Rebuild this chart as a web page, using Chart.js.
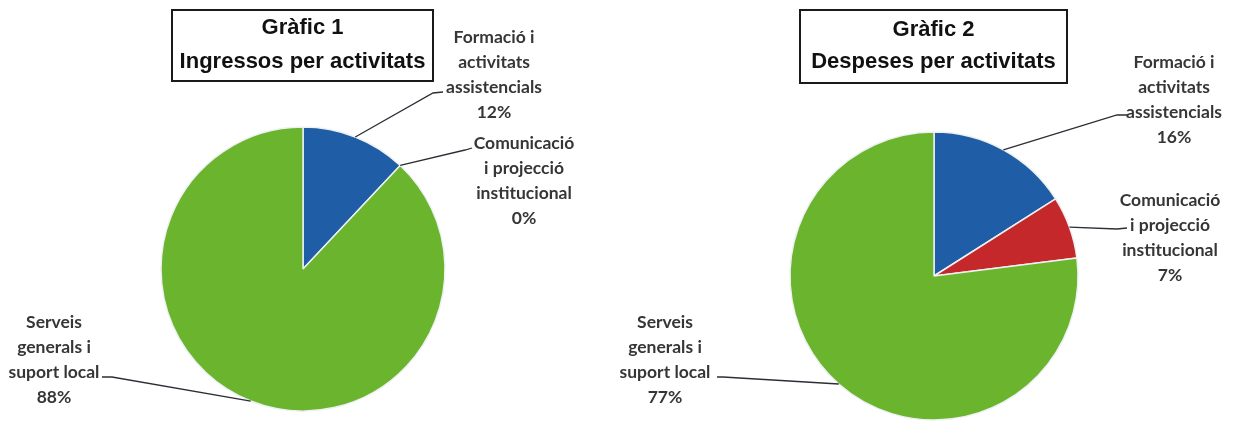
<!DOCTYPE html>
<html lang="ca">
<head>
  <meta charset="UTF-8">
  <title>Gràfics 1 i 2 - Ingressos i despeses per activitats</title>
  <script src="https://cdn.jsdelivr.net/npm/chart.js"></script>
  <style>
    html, body {
      margin: 0;
      padding: 0;
      background: #ffffff;
    }
    .wrap {
      position: relative;
      width: 1236px;
      height: 426px;
      overflow: hidden;
    }
    canvas {
      position: absolute;
      top: 0;
    }
    #chart1 { left: 0; }
    #chart2 { left: 618px; }
  </style>
</head>
<body>
  <div class="wrap">
    <canvas id="chart1" width="618" height="426"></canvas>
    <canvas id="chart2" width="618" height="426"></canvas>
  </div>

  <script>
    // categories (multi-line labels), same for both charts
    const categories = [
      ['Formació i', 'activitats', 'assistencials'],
      ['Comunicació', 'i projecció', 'institucional'],
      ['Serveis', 'generals i', 'suport local']
    ];
    // shares in %
    const ingressos = [12, 0, 88];
    const despeses = [16, 7, 77];
    const titles1 = ['Gràfic 1', 'Ingressos per activitats'];
    const titles2 = ['Gràfic 2', 'Despeses per activitats'];

    const sliceColors = ['#1f5ea6', '#c4282a', '#6ab42e'];

    // label placement, relative to the pie centre
    // text: centre x / first line y ; elbow + end of the leader line
    const place1 = [
      { tx: 191, ty: -232, ex: 130, ey: -176, fx: 140, fy: -177 },
      { tx: 221, ty: -126, ex: 162, ey: -119, fx: 169, fy: -121 },
      { tx: -249, ty: 53, ex: -191, ey: 108, fx: -201, fy: 108 }
    ];
    const place2 = [
      { tx: 240, ty: -214, ex: 183, ey: -161, fx: 193, fy: -161 },
      { tx: 236, ty: -76, ex: 183, ey: -47, fx: 193, fy: -48 },
      { tx: -269, ty: 46, ex: -211, ey: 101, fx: -217, fy: 101 }
    ];
    const box1 = { x0: -131, y0: -259, x1: 130, y1: -188, b1: -235, b2: -201 };
    const box2 = { x0: -134, y0: -266, x1: 133, y1: -193, b1: -240, b2: -208 };

    const labelFont = 'bold 17.5px Lato, "Open Sans", sans-serif';
    const titleFont = 'bold 22px "Liberation Sans", Arial, sans-serif';

    const annotatePlugin = {
      id: 'annotate',
      afterDraw(chart, args, opts) {
        const ctx = chart.ctx;
        const meta = chart.getDatasetMeta(0);
        const first = meta.data[0];
        const cx = first.x, cy = first.y;
        const data = chart.data.datasets[0].data;

        ctx.save();
        // title box
        const b = opts.box;
        ctx.strokeStyle = '#1a1a1a';
        ctx.lineWidth = 2;
        ctx.strokeRect(cx + b.x0, cy + b.y0, b.x1 - b.x0, b.y1 - b.y0);
        ctx.fillStyle = '#111';
        ctx.font = titleFont;
        ctx.textAlign = 'center';
        ctx.textBaseline = 'alphabetic';
        const mid = cx + (b.x0 + b.x1) / 2;
        ctx.fillText(opts.title[0], mid, cy + b.b1);
        ctx.fillText(opts.title[1], mid, cy + b.b2);

        // slice labels with leader lines
        meta.data.forEach((arc, i) => {
          const p = opts.place[i];
          const a = (arc.startAngle + arc.endAngle) / 2;
          const r = arc.outerRadius;
          ctx.beginPath();
          ctx.moveTo(cx + Math.cos(a) * r, cy + Math.sin(a) * r);
          ctx.lineTo(cx + p.ex, cy + p.ey);
          ctx.lineTo(cx + p.fx, cy + p.fy);
          ctx.strokeStyle = '#2a2f36';
          ctx.lineWidth = 1.3;
          ctx.stroke();

          const lines = chart.data.labels[i].concat([data[i] + '%']);
          ctx.fillStyle = '#363636';
          ctx.font = labelFont;
          ctx.textAlign = 'center';
          ctx.textBaseline = 'middle';
          lines.forEach((t, k) => {
            ctx.fillText(t, cx + p.tx, cy + p.ty + k * 25);
          });
        });
        ctx.restore();
      }
    };

    function makePie(id, values, radius, padding, title, place, box) {
      return new Chart(document.getElementById(id), {
        type: 'pie',
        data: {
          labels: categories,
          datasets: [{
            data: values,
            backgroundColor: sliceColors,
            borderColor: '#eef0f2',
            borderWidth: 1.5,
            radius: radius
          }]
        },
        options: {
          responsive: false,
          animation: false,
          layout: { padding: padding },
          plugins: {
            legend: { display: false },
            tooltip: { enabled: false },
            annotate: { title: title, place: place, box: box }
          }
        },
        plugins: [annotatePlugin]
      });
    }

    makePie('chart1', ingressos, 142, { left: 153, right: 165, top: 119, bottom: 7 }, titles1, place1, box1);
    makePie('chart2', despeses, 144, { left: 166, right: 152, top: 126, bottom: 0 }, titles2, place2, box2);
  </script>
</body>
</html>
